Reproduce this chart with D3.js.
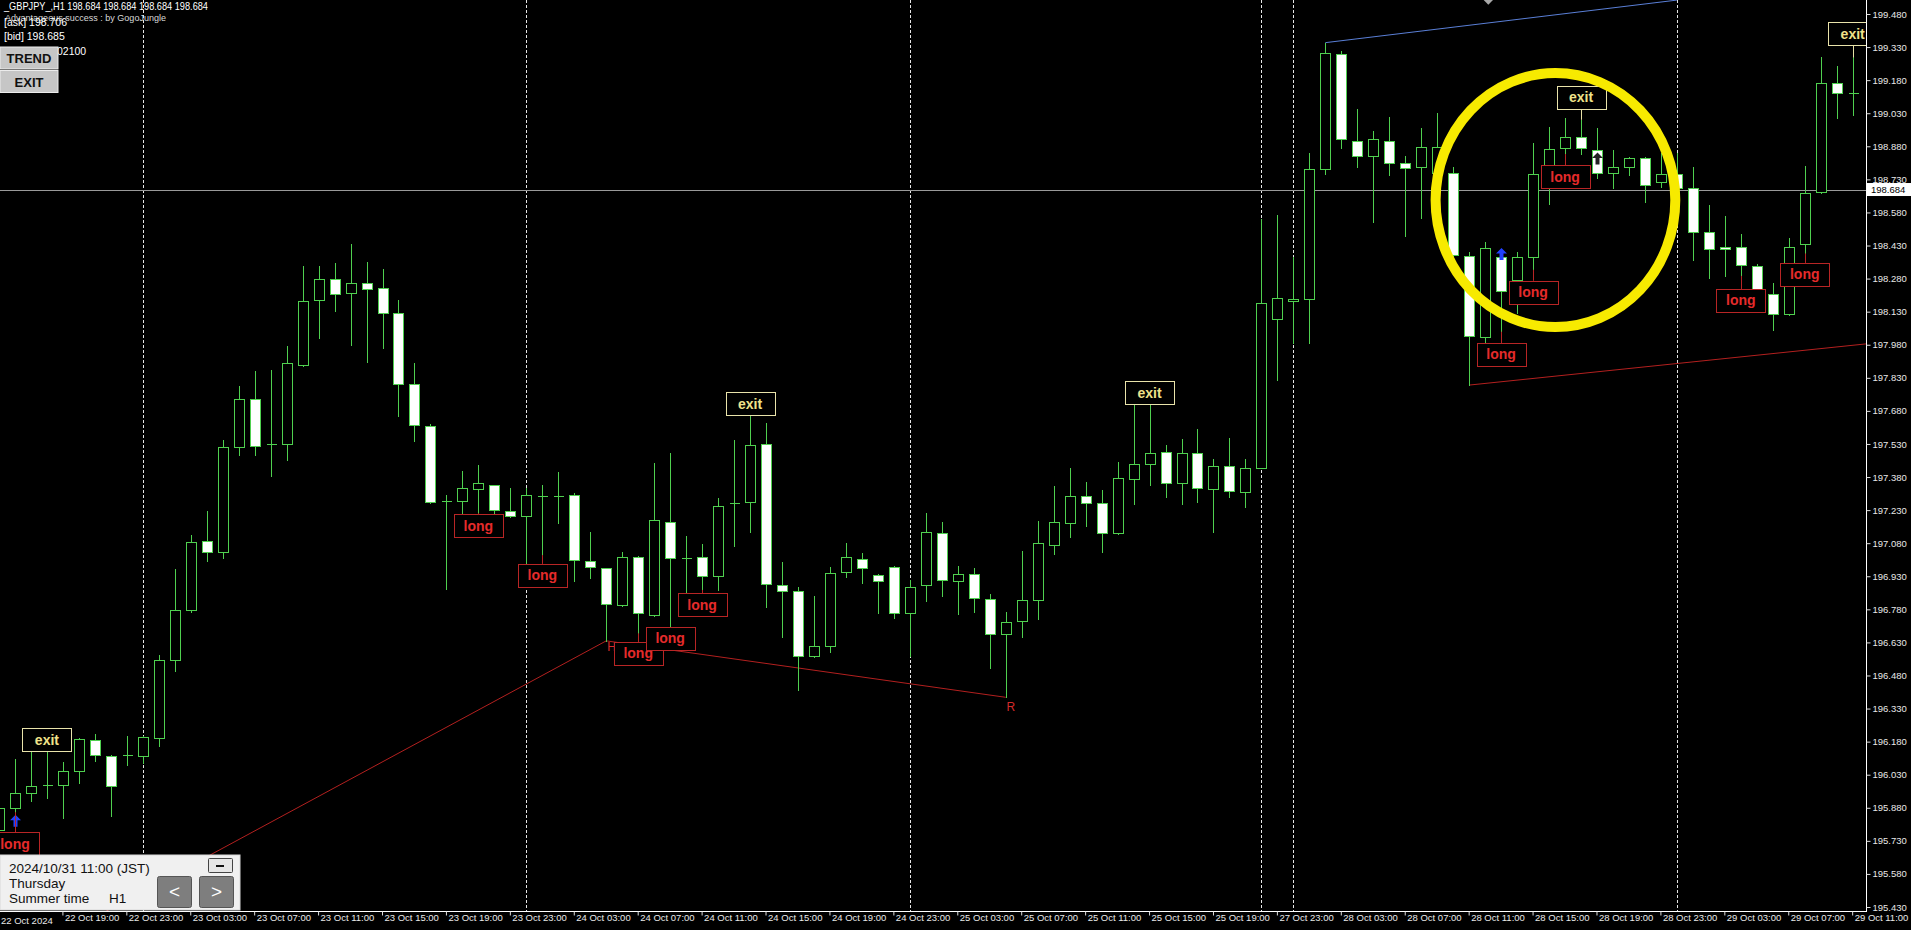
<!DOCTYPE html>
<html><head><meta charset="utf-8">
<script src="https://cdn.jsdelivr.net/npm/d3@7"></script>
<style>html,body{margin:0;padding:0;background:#000;overflow:hidden}text{font-family:"Liberation Sans",Arial,sans-serif}</style>
</head><body>
<svg id="c" width="1911" height="930"></svg>
<script>
// ---------- DATA ----------
const sessions = [["22 Oct",15,23],["23 Oct",0,23],["24 Oct",0,23],["25 Oct",0,21],["27 Oct",22,23],["28 Oct",0,23],["29 Oct",0,11]];
const times = [];
sessions.forEach(([d,a,b])=>{for(let h=a;h<=b;h++) times.push(d+" "+String(h).padStart(2,"0")+":00");});

const open = [195.78,195.881,195.947,195.98,195.983,196.047,196.187,196.116,196.115,196.116,196.197,196.548,196.775,197.088,197.038,197.514,197.732,197.526,197.529,197.889,198.181,198.277,198.213,198.259,198.236,198.122,197.802,197.612,197.268,197.271,197.324,197.344,197.227,197.203,197.292,197.292,197.297,197.001,196.966,196.8,197.016,196.755,197.178,197.009,197.016,196.933,197.259,197.268,197.528,196.89,196.865,196.569,196.615,196.948,197.008,196.936,196.974,196.762,196.89,197.125,196.91,196.938,196.827,196.67,196.727,196.823,197.074,197.173,197.296,197.26,197.124,197.371,197.437,197.494,197.354,197.491,197.324,197.432,197.31,197.423,198.095,198.18,198.186,198.776,199.297,198.906,198.837,198.906,198.803,198.787,198.76,198.757,198.384,198.017,198.379,198.274,198.379,198.754,198.871,198.924,198.863,198.758,198.785,198.826,198.72,198.754,198.692,198.493,198.425,198.425,198.338,198.209,198.118,198.436,198.674,199.168,199.118];
const high = [195.90,196.103,196.15,196.15,196.089,196.195,196.215,196.12,196.206,196.205,196.575,196.964,197.116,197.227,197.548,197.792,197.862,197.867,197.973,198.337,198.337,198.352,198.437,198.355,198.322,198.183,197.896,197.621,197.299,197.409,197.435,197.346,197.329,197.329,197.344,197.401,197.309,197.132,196.968,197.042,197.02,197.445,197.49,197.113,197.076,197.284,197.548,197.661,197.627,196.996,196.883,196.841,196.971,197.082,197.035,196.94,196.976,196.913,197.216,197.178,196.975,196.967,196.851,196.766,197.046,197.181,197.338,197.42,197.359,197.321,197.448,197.709,197.709,197.524,197.553,197.597,197.464,197.557,197.462,198.55,198.568,198.379,198.848,199.35,199.314,199.048,198.951,199.011,198.836,198.962,199.032,198.785,198.402,198.447,198.402,198.402,198.893,198.966,199.007,199.0,198.962,198.863,198.833,198.83,198.848,198.85,198.787,198.614,198.564,198.481,198.346,198.259,198.463,198.792,199.283,199.244,199.283];
const low = [195.74,195.86,195.913,195.924,195.835,195.992,196.094,195.844,196.076,196.085,196.16,196.501,196.77,197.001,197.014,197.479,197.479,197.386,197.455,197.885,198.009,198.134,197.979,197.903,197.964,197.658,197.545,197.262,196.871,197.216,197.216,197.216,197.2,196.989,197.026,197.173,196.91,196.92,196.637,196.795,196.671,196.75,196.701,196.853,196.868,196.868,197.067,197.132,196.792,196.656,196.414,196.565,196.588,196.928,196.898,196.762,196.739,196.57,196.819,196.841,196.761,196.769,196.513,196.381,196.653,196.736,197.033,197.107,197.156,197.041,197.12,197.256,197.343,197.288,197.256,197.267,197.129,197.288,197.244,197.42,197.82,197.987,197.987,198.754,198.871,198.787,198.538,198.75,198.473,198.553,198.561,198.364,197.797,197.994,198.039,198.123,198.32,198.618,198.845,198.845,198.735,198.689,198.75,198.629,198.694,198.685,198.364,198.281,198.292,198.292,198.225,198.047,198.115,198.394,198.67,199.01,199.022];
const close = [195.881,195.947,195.979,195.985,196.047,196.192,196.119,195.979,196.12,196.201,196.551,196.775,197.085,197.038,197.514,197.732,197.519,197.529,197.895,198.177,198.277,198.209,198.259,198.232,198.122,197.802,197.616,197.268,197.271,197.329,197.352,197.23,197.203,197.297,197.294,197.294,197.004,196.971,196.803,197.016,196.762,197.185,197.011,197.013,196.933,197.249,197.263,197.525,196.893,196.863,196.569,196.615,196.947,197.016,196.966,196.909,196.762,196.883,197.129,196.913,196.938,196.832,196.67,196.723,196.823,197.079,197.178,197.296,197.26,197.124,197.374,197.437,197.491,197.354,197.491,197.33,197.432,197.317,197.423,198.171,198.191,198.186,198.776,199.302,198.912,198.837,198.912,198.803,198.78,198.875,198.878,198.387,198.02,198.417,198.224,198.379,198.754,198.868,198.924,198.871,198.758,198.785,198.826,198.704,198.754,198.689,198.49,198.413,198.413,198.342,198.231,198.118,198.425,198.67,199.168,199.123,199.12];

const priceTicks = [199.48,199.33,199.18,199.03,198.88,198.73,198.58,198.43,198.28,198.13,197.98,197.83,197.68,197.53,197.38,197.23,197.08,196.93,196.78,196.63,196.48,196.33,196.18,196.03,195.88,195.73,195.58,195.43];
const timeTicks = ["22 Oct 19:00","22 Oct 23:00","23 Oct 03:00","23 Oct 07:00","23 Oct 11:00","23 Oct 15:00","23 Oct 19:00","23 Oct 23:00","24 Oct 03:00","24 Oct 07:00","24 Oct 11:00","24 Oct 15:00","24 Oct 19:00","24 Oct 23:00","25 Oct 03:00","25 Oct 07:00","25 Oct 11:00","25 Oct 15:00","25 Oct 19:00","27 Oct 23:00","28 Oct 03:00","28 Oct 07:00","28 Oct 11:00","28 Oct 15:00","28 Oct 19:00","28 Oct 23:00","29 Oct 03:00","29 Oct 07:00","29 Oct 11:00"];
const separators = ["23 Oct 00:00","24 Oct 00:00","25 Oct 00:00","27 Oct 22:00","28 Oct 00:00","29 Oct 00:00"];
const currentPrice = 198.684;

const exitLabels = [{t:"22 Oct 18:00",p:196.137},{t:"24 Oct 14:00",p:197.661},{t:"25 Oct 15:00",p:197.709},{t:"28 Oct 18:00",p:199.051},{t:"29 Oct 11:00",p:199.339}];
const longLabels = [{t:"22 Oct 16:00",p:195.77},{t:"23 Oct 21:00",p:197.212},{t:"24 Oct 01:00",p:196.986},{t:"24 Oct 07:00",p:196.632},{t:"24 Oct 09:00",p:196.701},{t:"24 Oct 11:00",p:196.854},{t:"28 Oct 13:00",p:197.988},{t:"28 Oct 15:00",p:198.27},{t:"28 Oct 17:00",p:198.795},{t:"29 Oct 04:00",p:198.233},{t:"29 Oct 08:00",p:198.351}];
const redLine1 = [{t:"22 Oct 20:00",s:0,p:195.344},{t:"24 Oct 05:00",s:0,p:196.637},{t:"25 Oct 06:00",s:0,p:196.381}];
const redLine2 = [{t:"28 Oct 11:00",s:0,p:197.797},{t:"29 Oct 11:00",s:1,p:197.985}];
const blueLine = [{t:"28 Oct 02:00",s:0,p:199.35},{t:"29 Oct 00:00",s:0,p:199.543}];
const hrMarks = [{t:"24 Oct 05:00",p:196.637,txt:"H"},{t:"25 Oct 06:00",p:196.381,txt:"R"}];
const arrows = [{t:"22 Oct 16:00",p:195.848,c:"#2040ff"},{t:"28 Oct 13:00",p:198.419,c:"#2040ff"},{t:"28 Oct 19:00",p:198.852,c:"#222"}];
const ring = {t:"28 Oct 16:00",s:0.4,p:198.636,di:7.5,dp:0.576};
const diamond = {t:"28 Oct 12:00",s:0.2,p:199.545};

// ---------- SCALES ----------
const svg = d3.select("#c");
const plotR = 1866, plotB = 911;
const STEP = 15.98;
const x = d3.scaleBand().domain(times).range([-9, -9 + times.length*STEP]).padding(0);
const y = d3.scaleLinear().domain([195.43,199.48]).range([907,14]);
const X = (t,s=0) => x(t) + x.bandwidth()/2 + s*x.step();
const green = "#4fd04f";

svg.append("rect").attr("width",1911).attr("height",930).attr("fill","#000");
svg.append("defs").append("clipPath").attr("id","pc").append("rect").attr("x",0).attr("y",0).attr("width",plotR).attr("height",plotB);
const g = svg.append("g").attr("clip-path","url(#pc)");

// separators
g.selectAll(".sep").data(separators).join("line")
  .attr("x1",d=>Math.round(X(d))+0.5).attr("x2",d=>Math.round(X(d))+0.5)
  .attr("y1",0).attr("y2",plotB).attr("stroke","#e6e6e6").attr("stroke-width",1).attr("stroke-dasharray","3,2");

// current price line
g.append("line").attr("x1",0).attr("x2",plotR).attr("y1",Math.round(y(currentPrice))+0.5).attr("y2",Math.round(y(currentPrice))+0.5)
  .attr("stroke","#9a9a9a").attr("stroke-width",1);

// trend lines
const ln = d3.line().x(d=>X(d.t,d.s)).y(d=>y(d.p));
g.append("path").attr("d",ln(redLine1)).attr("fill","none").attr("stroke","#b3201f").attr("stroke-width",1);
g.append("path").attr("d",ln(redLine2)).attr("fill","none").attr("stroke","#b3201f").attr("stroke-width",1);
g.append("path").attr("d",ln(blueLine)).attr("fill","none").attr("stroke","#5a7fd6").attr("stroke-width",1);
g.append("path").attr("transform",`translate(${X(diamond.t,diamond.s)},${y(diamond.p)})`)
  .attr("d","M0,-5L5,0L0,5L-5,0Z").attr("fill","#a8a8a8");

// candles
const cg = g.append("g").attr("shape-rendering","crispEdges");
times.forEach((t,k)=>{
  const o=open[k],h=high[k],l=low[k],c=close[k];
  const cx = Math.round(X(t))+0.5;
  cg.append("line").attr("x1",cx).attr("x2",cx).attr("y1",Math.round(y(h))).attr("y2",Math.round(y(l))+1)
    .attr("stroke",green).attr("stroke-width",1);
  const yt = Math.round(y(Math.max(o,c))), yb = Math.round(y(Math.min(o,c)));
  if (yb - yt < 2) {
    cg.append("line").attr("x1",cx-5).attr("x2",cx+5).attr("y1",yt+0.5).attr("y2",yt+0.5).attr("stroke",green);
  } else {
    cg.append("rect").attr("x",cx-5).attr("y",yt+0.5).attr("width",10).attr("height",yb-yt)
      .attr("fill", c>=o ? "#000" : "#ffffff").attr("stroke",green).attr("stroke-width",1);
  }
});

// H / R marks
hrMarks.forEach(m=>{
  const t = g.append("text").attr("fill","#d42a2a").attr("font-size",12).text(m.txt);
  if (m.txt==="H") t.attr("x",X(m.t)+1).attr("y",y(m.p)+10);
  else t.attr("x",X(m.t)+5).attr("y",y(m.p)+14).attr("text-anchor","middle");
});

// arrows
arrows.forEach(a=>{
  const ax = Math.round(X(a.t))+0.5, ay = y(a.p);
  g.append("path").attr("transform",`translate(${ax},${ay})`)
    .attr("d","M0,0L5.5,5.5L2,5.5L2,12L-2,12L-2,5.5L-5.5,5.5Z").attr("fill",a.c);
});

// label pointers & boxes
const BW=49, BH=23;
exitLabels.forEach(d=>{
  const cx = X(d.t), by = y(d.p);
  const k = times.indexOf(d.t);
  const hy = y(high[k]);
  if (hy > by) g.append("line").attr("x1",Math.round(cx)+0.5).attr("x2",Math.round(cx)+0.5).attr("y1",by).attr("y2",hy).attr("stroke","#e6e0a6");
  g.append("rect").attr("x",Math.round(cx-BW/2)+0.5).attr("y",Math.round(by-BH)+0.5).attr("width",BW).attr("height",BH)
    .attr("fill","#000").attr("stroke","#e9e3aa").attr("stroke-width",1);
  g.append("text").attr("x",cx).attr("y",by-6.5).attr("text-anchor","middle").attr("font-size",14).attr("font-weight","bold")
    .attr("fill","#efe28a").text("exit");
});
longLabels.forEach(d=>{
  const cx = X(d.t), ty = y(d.p);
  const k = times.indexOf(d.t);
  const ly = y(low[k]);
  if (ly < ty) g.append("line").attr("x1",Math.round(cx)+0.5).attr("x2",Math.round(cx)+0.5).attr("y1",ly).attr("y2",ty).attr("stroke","#b82525");
  g.append("rect").attr("x",Math.round(cx-BW/2)+0.5).attr("y",Math.round(ty)+0.5).attr("width",BW).attr("height",BH)
    .attr("fill","#000").attr("stroke","#b82525").attr("stroke-width",1);
  g.append("text").attr("x",cx).attr("y",ty+16.5).attr("text-anchor","middle").attr("font-size",14).attr("font-weight","bold")
    .attr("fill","#e52b2b").text("long");
});

// yellow ring
g.append("ellipse").attr("cx",X(ring.t,ring.s)).attr("cy",y(ring.p))
  .attr("rx",ring.di*x.step()).attr("ry",y(ring.p-ring.dp)-y(ring.p))
  .attr("fill","none").attr("stroke","#f7ea00").attr("stroke-width",10);

// ---------- AXES ----------
svg.append("line").attr("x1",plotR+0.5).attr("x2",plotR+0.5).attr("y1",0).attr("y2",plotB+1).attr("stroke","#fff");
svg.append("line").attr("x1",0).attr("x2",plotR).attr("y1",plotB+0.5).attr("y2",plotB+0.5).attr("stroke","#fff");

const ya = svg.append("g").attr("transform",`translate(${plotR+0.5},0)`)
  .call(d3.axisRight(y).tickValues(priceTicks).tickFormat(d3.format(".3f")).tickSize(4).tickPadding(2));
ya.select(".domain").remove();
ya.selectAll("line").attr("stroke","#ddd");
ya.selectAll("text").attr("fill","#e8e8e8").attr("font-size",9.5).attr("font-family","'Liberation Sans',Arial,sans-serif");

// current price tag
const cpy = y(currentPrice);
svg.append("rect").attr("x",plotR+1).attr("y",cpy-6.5).attr("width",44).attr("height",13).attr("fill","#fff");
svg.append("text").attr("x",plotR+5).attr("y",cpy+3.5).attr("font-size",9.5).attr("fill","#000").text(d3.format(".3f")(currentPrice));

const xa = svg.append("g").attr("transform",`translate(0,${plotB+0.5})`)
  .call(d3.axisBottom(x).tickValues(timeTicks).tickSize(4).tickPadding(0));
xa.select(".domain").remove();
xa.selectAll("line").attr("stroke","#ddd");
xa.selectAll("text").attr("fill","#e8e8e8").attr("font-size",9.5).attr("text-anchor","start").attr("dx",2).attr("dy","0.55em")
  .attr("font-family","'Liberation Sans',Arial,sans-serif");
svg.append("text").attr("x",1).attr("y",924).attr("fill","#e8e8e8").attr("font-size",9.5).text("22 Oct 2024");

// ---------- HEADER UI ----------
svg.append("text").attr("x",4).attr("y",10).attr("fill","#fff").attr("font-size",10.5).attr("textLength",204).attr("lengthAdjust","spacingAndGlyphs")
  .text("_GBPJPY_,H1  198.684 198.684 198.684 198.684");
svg.append("text").attr("x",5).attr("y",21).attr("fill","#d8d8d8").attr("font-size",9).attr("textLength",161).attr("lengthAdjust","spacingAndGlyphs")
  .text("Advantageous success : by GogoJungle");
svg.append("text").attr("x",4).attr("y",25.5).attr("fill","#fff").attr("font-size",10.5).text("[ask] 198.706");
svg.append("text").attr("x",4).attr("y",39.5).attr("fill","#fff").attr("font-size",10.5).text("[bid] 198.685");
svg.append("text").attr("x",57).attr("y",55).attr("fill","#fff").attr("font-size",10.5).text("02100");
[["TREND",47],["EXIT",70.5]].forEach(([lab,yy])=>{
  svg.append("rect").attr("x",0).attr("y",yy).attr("width",58).attr("height",22).attr("fill","#c6c6c6").attr("stroke","#ececec");
  svg.append("text").attr("x",29).attr("y",yy+16).attr("text-anchor","middle").attr("font-size",13).attr("font-weight","bold").attr("fill","#111").text(lab);
});

// ---------- BOTTOM PANEL ----------
svg.append("rect").attr("x",0).attr("y",855).attr("width",240).attr("height",55).attr("fill","#f0f0f0").attr("stroke","#d8d8d8");
svg.append("text").attr("x",9).attr("y",873).attr("font-size",13.5).attr("fill","#111").text("2024/10/31 11:00 (JST)");
svg.append("text").attr("x",9).attr("y",888).attr("font-size",13.5).attr("fill","#111").text("Thursday");
svg.append("text").attr("x",9).attr("y",903).attr("font-size",13.5).attr("fill","#111").text("Summer time");
svg.append("text").attr("x",109).attr("y",903).attr("font-size",13.5).attr("fill","#111").text("H1");
svg.append("rect").attr("x",208.5).attr("y",858.5).attr("width",24).attr("height",14).attr("fill","#e6e6e6").attr("stroke","#444").attr("rx",1);
svg.append("rect").attr("x",216).attr("y",865).attr("width",8).attr("height",2).attr("fill","#111");
[["<",157],[">",199]].forEach(([lab,xx])=>{
  svg.append("rect").attr("x",xx+0.5).attr("y",876.5).attr("width",34).attr("height",31).attr("fill","#7e7e7e").attr("stroke","#555").attr("rx",2);
  svg.append("text").attr("x",xx+17.5).attr("y",898).attr("text-anchor","middle").attr("font-size",19).attr("fill","#fff").text(lab);
});
</script>
</body></html>
